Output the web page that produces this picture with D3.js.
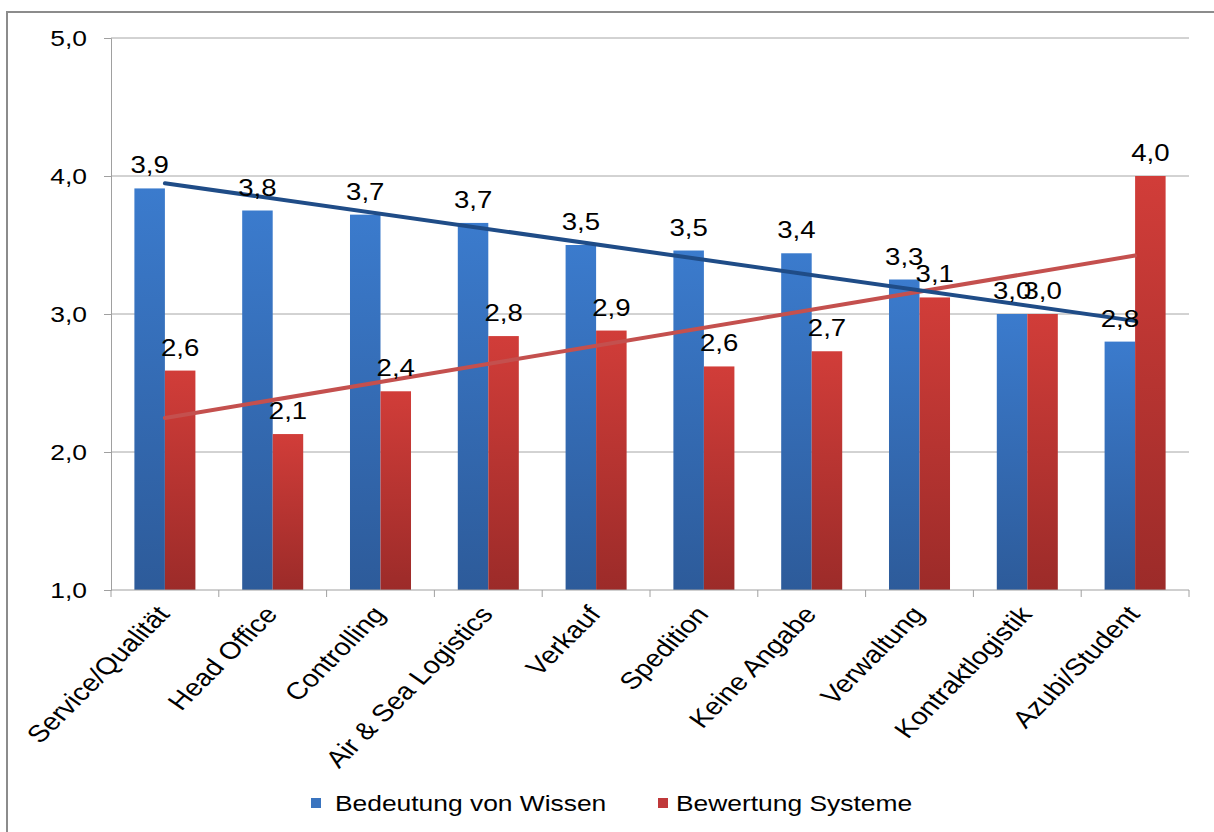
<!DOCTYPE html>
<html>
<head>
<meta charset="utf-8">
<script src="https://cdn.jsdelivr.net/npm/d3@7"></script>
<style>
  body { margin: 0; background: #fff; }
  text { font-family: "Liberation Sans", Arial, sans-serif; fill: #000; }
</style>
</head>
<body>
<div id="chart"></div>
<script>
// Data
var categories = ["Service/Qualität", "Head Office", "Controlling", "Air & Sea Logistics", "Verkauf",
    "Spedition", "Keine Angabe", "Verwaltung", "Kontraktlogistik", "Azubi/Student"];
var wissen = [3.91, 3.75, 3.72, 3.66, 3.50, 3.46, 3.44, 3.25, 3.00, 2.80];
var systeme = [2.59, 2.13, 2.44, 2.84, 2.88, 2.62, 2.73, 3.12, 3.00, 4.00];
var seriesNames = ["Bedeutung von Wissen", "Bewertung Systeme"];
var yTicks = [1, 2, 3, 4, 5];

var width = 1214;
var height = 832;
var margin = { top: 38, right: 25, bottom: 242, left: 111 };
var plotW = width - margin.left - margin.right;
var plotH = height - margin.top - margin.bottom;

var fmt = function (v) { return d3.format(".1f")(v).replace(".", ","); };
var stretch = "scale(1.2,1)";

var svg = d3.select("#chart")
    .append("svg")
    .attr("width", width)
    .attr("height", height);

// gradients for the bars
var defs = svg.append("defs");
var grads = [["gradBlue", "#3b7bcd", "#2d5b9a"], ["gradRed", "#d13d39", "#9c2b29"]];
grads.forEach(function (g) {
    var lg = defs.append("linearGradient")
        .attr("id", g[0])
        .attr("x1", 0).attr("y1", 0).attr("x2", 0).attr("y2", 1);
    lg.append("stop").attr("offset", "0%").attr("stop-color", g[1]);
    lg.append("stop").attr("offset", "100%").attr("stop-color", g[2]);
});

// outer frame
svg.append("rect")
    .attr("x", 7).attr("y", 12)
    .attr("width", width + 20).attr("height", height + 20)
    .attr("fill", "none")
    .attr("stroke", "#8c8c8c")
    .attr("stroke-width", 2);

var g = svg.append("g")
    .attr("transform", "translate(" + margin.left + "," + margin.top + ")");

// scales
var x0 = d3.scaleBand()
    .domain(categories)
    .range([0, plotW])
    .paddingInner(0.434)
    .paddingOuter(0.217);

var x1 = d3.scaleBand()
    .domain([0, 1])
    .range([0, x0.bandwidth()]);

var y = d3.scaleLinear()
    .domain([1, 5])
    .range([plotH, 0]);

var color = ["url(#gradBlue)", "url(#gradRed)"];
var legendColor = ["#3a74bf", "#c0393a"];

// gridlines
g.selectAll("line.grid")
    .data(yTicks.slice(1))
    .enter()
    .append("line")
    .attr("x1", 0).attr("x2", plotW)
    .attr("y1", function (d) { return y(d); })
    .attr("y2", function (d) { return y(d); })
    .attr("stroke", "#a6a6a6")
    .attr("stroke-width", 1);

// y axis
var yAxis = g.append("g")
    .call(d3.axisLeft(y).tickValues(yTicks).tickSize(7).tickPadding(17).tickFormat(fmt));
yAxis.select(".domain").attr("stroke", "#a0a0a0");
yAxis.selectAll(".tick line").attr("stroke", "#a0a0a0");
yAxis.selectAll(".tick text")
    .attr("font-size", 22)
    .attr("dy", "0.36em")
    .each(function () {
        var t = d3.select(this);
        t.attr("transform", "translate(" + t.attr("x") + ",0) " + stretch).attr("x", 0);
    });

// bars
var series = [wissen, systeme];
series.forEach(function (vals, s) {
    g.selectAll("rect.s" + s)
        .data(vals)
        .enter()
        .append("rect")
        .attr("class", "s" + s)
        .attr("x", function (d, i) { return x0(categories[i]) + x1(s); })
        .attr("y", function (d) { return y(d); })
        .attr("width", x1.bandwidth())
        .attr("height", function (d) { return plotH - y(d); })
        .attr("fill", color[s]);
});

// linear trendlines
function trend(vals) {
    var n = vals.length;
    var mx = d3.mean(d3.range(n));
    var my = d3.mean(vals);
    var sxy = d3.sum(vals, function (v, i) { return (i - mx) * (v - my); });
    var sxx = d3.sum(d3.range(n), function (i) { return (i - mx) * (i - mx); });
    var b = sxy / sxx;
    return [0, n - 1].map(function (i) { return [i, my + b * (i - mx)]; });
}
var trendColor = ["#1f4c87", "#c4504e"];
var line = d3.line()
    .x(function (d) { return x0(categories[d[0]]) + x0.bandwidth() / 2; })
    .y(function (d) { return y(d[1]); });
[1, 0].forEach(function (s) {
    g.append("path")
        .datum(trend(series[s]))
        .attr("d", line)
        .attr("fill", "none")
        .attr("stroke", trendColor[s])
        .attr("stroke-width", 4)
        .attr("stroke-linecap", "round");
});

// data labels
series.forEach(function (vals, s) {
    g.selectAll("text.l" + s)
        .data(vals)
        .enter()
        .append("text")
        .attr("class", "l" + s)
        .attr("text-anchor", "middle")
        .attr("font-size", 23)
        .attr("transform", function (d, i) {
            var cx = x0(categories[i]) + x1(s) + x1.bandwidth() / 2;
            return "translate(" + cx + "," + (y(d) - 15) + ") " + stretch;
        })
        .text(function (d) { return fmt(d); });
});

// x axis
var xAxis = g.append("g")
    .attr("transform", "translate(0," + plotH + ")");
xAxis.append("line")
    .attr("x1", 0).attr("x2", plotW)
    .attr("stroke", "#a0a0a0");
xAxis.selectAll("line.tick")
    .data(d3.range(categories.length + 1))
    .enter()
    .append("line")
    .attr("x1", function (i) { return i * x0.step(); })
    .attr("x2", function (i) { return i * x0.step(); })
    .attr("y1", 0).attr("y2", 7)
    .attr("stroke", "#a0a0a0");
xAxis.selectAll("text")
    .data(categories)
    .enter()
    .append("text")
    .attr("text-anchor", "end")
    .attr("font-size", 24)
    .attr("transform", function (d) {
        var cx = x0(d) + x0.bandwidth() / 2 + 6;
        return "translate(" + cx + ",25) " + stretch + " rotate(-50)";
    })
    .text(function (d) { return d; });

// legend
var legendX = [311, 658];
var legend = svg.selectAll("g.legend")
    .data(seriesNames)
    .enter()
    .append("g")
    .attr("transform", function (d, i) { return "translate(" + legendX[i] + ",798)"; });
legend.append("rect")
    .attr("width", 10).attr("height", 10)
    .attr("fill", function (d, i) { return legendColor[i]; });
legend.append("text")
    .attr("font-size", 22)
    .attr("transform", function (d, i) { return "translate(" + (i === 0 ? 24 : 18) + ",13) " + stretch; })
    .text(function (d) { return d; });
</script>
</body>
</html>
